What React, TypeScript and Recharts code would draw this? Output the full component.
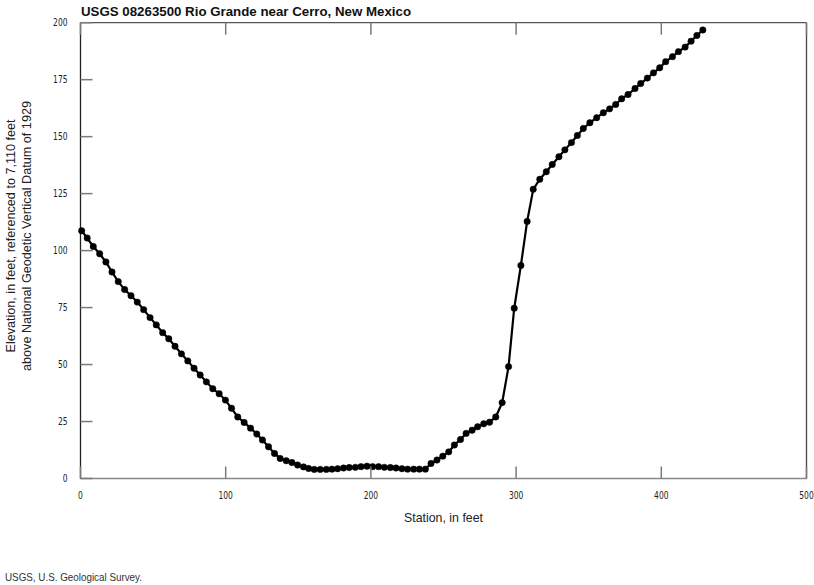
import React from "react";
import { LineChart, Line, XAxis, YAxis } from "recharts";

const stations = [
  0.8, 4.6, 8.8, 13.2, 17.5, 21.7, 26.0, 30.4, 34.8, 39.1, 43.5, 47.9, 52.2, 56.6, 60.8, 65.1, 69.5,
  73.9, 78.2, 82.4, 86.7, 91.1, 95.5, 99.8, 104.0, 108.3, 112.7, 117.1, 121.4, 125.3, 129.5, 133.6,
  137.5, 141.7, 145.6, 149.5, 153.6, 157.1, 161.0, 165.1, 169.3, 173.2, 177.1, 181.2, 185.1, 189.3,
  193.2, 197.3, 201.2, 205.3, 209.3, 213.4, 217.3, 221.4, 225.3, 229.5, 233.4, 237.5, 241.4, 245.5,
  249.5, 253.6, 257.5, 261.7, 265.6, 269.7, 273.5, 277.7, 281.7, 286.0, 290.4, 294.8, 298.7, 303.3,
  307.6, 311.8, 316.3, 320.8, 324.9, 329.5, 333.6, 338.1, 342.2, 346.3, 350.8, 355.5, 360.1, 364.4,
  368.6, 372.7, 377.1, 381.9, 385.8, 390.4, 394.6, 398.9, 403.0, 407.7, 411.8, 416.4, 420.5, 424.5,
  428.6,
];

const elevations = [
  108.7, 105.5, 101.8, 98.6, 95.0, 90.6, 86.4, 82.9, 80.2, 77.4, 74.1, 70.6, 67.4, 64.0, 61.3, 58.0,
  54.7, 51.6, 48.4, 45.4, 42.4, 39.4, 37.2, 34.4, 30.8, 27.0, 24.6, 22.1, 19.5, 16.9, 13.9, 11.0, 8.8,
  7.8, 7.0, 5.9, 5.1, 4.4, 4.0, 4.0, 4.0, 4.1, 4.3, 4.6, 4.8, 4.9, 5.2, 5.4, 5.2, 5.2, 4.9, 4.8, 4.6,
  4.3, 4.1, 4.1, 4.1, 4.1, 6.6, 8.1, 9.8, 11.7, 14.7, 17.1, 19.8, 21.2, 22.7, 24.0, 24.7, 27.0, 33.3,
  49.1, 74.7, 93.5, 112.8, 126.9, 131.3, 134.6, 137.8, 141.2, 144.2, 147.4, 150.5, 153.6, 156.1, 158.3,
  160.5, 162.2, 164.1, 166.6, 168.5, 171.1, 173.3, 175.7, 178.0, 180.2, 182.9, 185.1, 187.3, 189.3,
  191.9, 194.4, 196.8,
];

const xTicks = [0, 100, 200, 300, 400, 500];
const yTicks = [0, 25, 50, 75, 100, 125, 150, 175, 200];

const titleText = "USGS 08263500 Rio Grande near Cerro, New Mexico";
const yLabel1 = "Elevation, in feet, referenced to 7,110 feet";
const yLabel2 = "above National Geodetic Vertical Datum of 1929";
const xLabel = "Station, in feet";
const footnote = "USGS, U.S. Geological Survey.";

const data = stations.map((s, i) => ({ station: s, elevation: elevations[i] }));

const FONT = "'Liberation Sans', Arial, sans-serif";
const TICK_FONT = "'DejaVu Sans Condensed', 'Liberation Sans', sans-serif";
const TICK_LEN = 12;
const TICK_COLOR = "#7a7a7a";

const BottomTick = (props: any) => {
  const { x, y, payload } = props;
  return (
    <g>
      <line x1={x} x2={x} y1={y} y2={y - TICK_LEN} stroke={TICK_COLOR} strokeWidth={1.5} />
      <text
        x={x}
        y={y + 20.5}
        textAnchor="middle"
        fontFamily={TICK_FONT}
        fontSize={10.5}
        fill="#222"
        transform={`translate(${x} 0) scale(0.8 1) translate(${-x} 0)`}
      >
        {payload.value}
      </text>
    </g>
  );
};

const TopTick = (props: any) => {
  const { x, y } = props;
  return <line x1={x} x2={x} y1={y} y2={y + TICK_LEN} stroke={TICK_COLOR} strokeWidth={1.5} />;
};

const LeftTick = (props: any) => {
  const { x, y, payload } = props;
  const tx = x - 13;
  return (
    <g>
      <line x1={x} x2={x + TICK_LEN} y1={y} y2={y} stroke={TICK_COLOR} strokeWidth={1.5} />
      <text
        x={tx}
        y={y + 3.8}
        textAnchor="end"
        fontFamily={TICK_FONT}
        fontSize={10.5}
        fill="#222"
        transform={`translate(${tx} 0) scale(0.8 1) translate(${-tx} 0)`}
      >
        {payload.value}
      </text>
    </g>
  );
};

const RightTick = (props: any) => {
  const { x, y } = props;
  return <line x1={x} x2={x - TICK_LEN} y1={y} y2={y} stroke={TICK_COLOR} strokeWidth={1.5} />;
};

export default function App() {
  return (
    <div style={{ position: "absolute", left: 0, top: 0, width: 814, height: 585, background: "#fff" }}>
      <LineChart
        width={814}
        height={585}
        data={data}
        margin={{ top: 21.7, left: 79.5, right: 6.5, bottom: 105.5 }}
      >
        <XAxis
          xAxisId="bottom"
          dataKey="station"
          type="number"
          domain={[0, 500]}
          ticks={xTicks}
          height={1}
          tickSize={0}
          tickMargin={0}
          tickLine={false}
          axisLine={{ stroke: "#888", strokeWidth: 1.5 }}
          tick={<BottomTick />}
          interval={0}
        />
        <XAxis
          xAxisId="top"
          orientation="top"
          dataKey="station"
          type="number"
          domain={[0, 500]}
          ticks={xTicks}
          height={1}
          tickSize={0}
          tickMargin={0}
          tickLine={false}
          axisLine={{ stroke: "#555", strokeWidth: 1.2 }}
          tick={<TopTick />}
          interval={0}
        />
        <YAxis
          yAxisId="left"
          type="number"
          domain={[0, 200]}
          ticks={yTicks}
          width={1}
          tickSize={0}
          tickMargin={0}
          tickLine={false}
          axisLine={{ stroke: "#222", strokeWidth: 1.3 }}
          tick={<LeftTick />}
          interval={0}
        />
        <YAxis
          yAxisId="right"
          orientation="right"
          type="number"
          domain={[0, 200]}
          ticks={yTicks}
          width={1}
          tickSize={0}
          tickMargin={0}
          tickLine={false}
          axisLine={{ stroke: "#444", strokeWidth: 1.3 }}
          tick={<RightTick />}
          interval={0}
        />
        <Line
          xAxisId="bottom"
          yAxisId="left"
          type="linear"
          dataKey="elevation"
          stroke="#000"
          strokeWidth={2.2}
          dot={{ r: 3.2, fill: "#000", stroke: "#000", strokeWidth: 0.5 }}
          isAnimationActive={false}
        />
      </LineChart>
      <svg
        width={814}
        height={585}
        style={{ position: "absolute", left: 0, top: 0, pointerEvents: "none" }}
      >
        <text
          x={81}
          y={16}
          fontFamily={FONT}
          fontWeight="bold"
          fontSize={13.5}
          fill="#111"
          textLength={330}
          lengthAdjust="spacingAndGlyphs"
        >
          {titleText}
        </text>
        <text
          transform="translate(14.5,236) rotate(-90)"
          textAnchor="middle"
          fontFamily={FONT}
          fontSize={13.5}
          fill="#222"
          textLength={233}
          lengthAdjust="spacingAndGlyphs"
        >
          {yLabel1}
        </text>
        <text
          transform="translate(31,236) rotate(-90)"
          textAnchor="middle"
          fontFamily={FONT}
          fontSize={13.5}
          fill="#222"
          textLength={270}
          lengthAdjust="spacingAndGlyphs"
        >
          {yLabel2}
        </text>
        <text
          x={404}
          y={522}
          fontFamily={FONT}
          fontSize={13}
          fill="#222"
          textLength={79}
          lengthAdjust="spacingAndGlyphs"
        >
          {xLabel}
        </text>
        <text
          x={5}
          y={581}
          fontFamily={FONT}
          fontSize={11.5}
          fill="#333"
          textLength={137}
          lengthAdjust="spacingAndGlyphs"
        >
          {footnote}
        </text>
      </svg>
    </div>
  );
}
